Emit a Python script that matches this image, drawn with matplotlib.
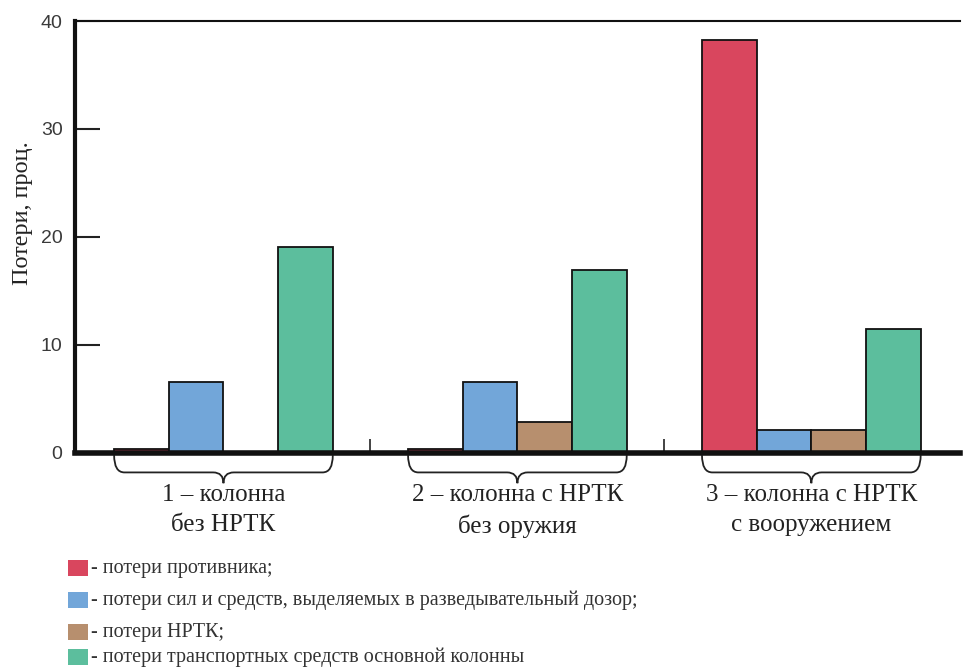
import matplotlib
matplotlib.use("Agg")
import matplotlib.pyplot as plt
from matplotlib.path import Path
from matplotlib.patches import PathPatch, Rectangle
from matplotlib.transforms import blended_transform_factory
import numpy as np

categories = ["1 – колонна\nбез НРТК", "2 – колонна с НРТК\nбез оружия", "3 – колонна с НРТК\nс вооружением"]
series_names = ["- потери противника;",
                "- потери сил и средств, выделяемых в разведывательный дозор;",
                "- потери НРТК;",
                "- потери транспортных средств основной колонны"]
enemy = [0.35, 0.35, 38.2]
patrol = [6.6, 6.6, 2.1]
nrtk = [0.0, 2.9, 2.1]
transport = [19.1, 16.9, 11.5]
series = [enemy, patrol, nrtk, transport]
colors = ["#D9465E", "#72A6D9", "#B78F6E", "#5CBE9D"]
yticks = [0, 10, 20, 30, 40]

fig = plt.figure(figsize=(9.68, 6.69), dpi=100)
ax = fig.add_axes([0.0775, 0.3229, 0.914, 0.6457])

w = 0.186
x = np.arange(len(categories))
for i, (vals, c) in enumerate(zip(series, colors)):
    ax.bar(x + (i - 1.5) * w, vals, width=w, color=c, edgecolor="#111111",
           linewidth=1.3, zorder=2)

ax.set_xlim(-0.505, 2.505)
ax.set_ylim(0, 40)
ax.set_yticks(yticks)
ax.set_yticklabels([str(t) for t in yticks], family="Liberation Sans",
                   fontsize=14, color="#3a3a3a")
ax.tick_params(axis="y", direction="in", length=18, width=1.5, pad=9, color="#222222")
ax.set_xticks([0.5, 1.5])
ax.set_xticklabels([])
ax.tick_params(axis="x", direction="in", length=10, width=1.2, color="#222222")
ax.spines["right"].set_visible(False)
ax.spines["left"].set_linewidth(3)
ax.spines["bottom"].set_linewidth(4)
ax.spines["top"].set_linewidth(1.5)
for s in ax.spines.values():
    s.set_color("#111111")

ax.set_ylabel("Потери, проц.", family="Liberation Serif", fontsize=17.5, color="#222222")
ax.yaxis.set_label_coords(-0.047, 0.556)

# braces under groups
tr = blended_transform_factory(ax.transData, ax.transAxes)
for xc in x:
    x0 = xc - 2 * w
    x1 = xc + 2 * w
    top, mid, tip = -0.005, -0.045, -0.07
    r = 0.035
    verts = [(x0, top), (x0, mid), (x0 + r, mid),
             (xc - r, mid), (xc, mid), (xc, tip),
             (xc, mid), (xc + r, mid),
             (x1 - r, mid), (x1, mid), (x1, top)]
    codes = [Path.MOVETO, Path.CURVE3, Path.CURVE3,
             Path.LINETO, Path.CURVE3, Path.CURVE3,
             Path.CURVE3, Path.CURVE3,
             Path.LINETO, Path.CURVE3, Path.CURVE3]
    ax.add_patch(PathPatch(Path(verts, codes), transform=tr, fill=False,
                           lw=1.3, edgecolor="#222222", clip_on=False))

for xc, lab in zip(x, categories):
    ax.text(xc, -0.072, lab, transform=tr, ha="center", va="top",
            family="Liberation Serif", fontsize=18, linespacing=1.45, color="#222222")

# legend
rows_y = [568, 600, 632, 657]
H = 669.0
for yy, name, c in zip(rows_y, series_names, colors):
    fig.patches.append(Rectangle((68 / 968, 1 - (yy + 8) / H), 20 / 968, 16 / H,
                                 transform=fig.transFigure, facecolor=c, edgecolor="none"))
    fig.text(91 / 968, 1 - yy / H, name, ha="left", va="center",
             family="Liberation Serif", fontsize=14.5, color="#333333")

fig.savefig("out.png", dpi=100)
